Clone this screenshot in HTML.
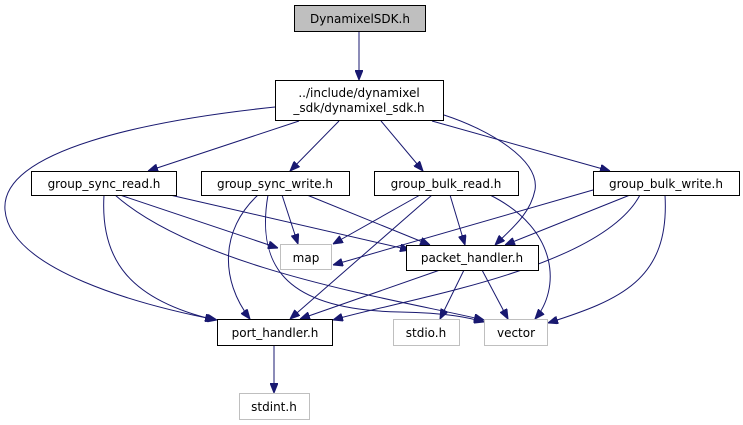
<!DOCTYPE html>
<html><head><meta charset="utf-8"><style>
html,body{margin:0;padding:0;background:#fff;}
svg{display:block}
text{font-family:"DejaVu Sans","Liberation Sans",sans-serif;font-size:12px;fill:#000}
</style></head><body>
<svg width="743" height="425" viewBox="0 0 743 425" xmlns="http://www.w3.org/2000/svg">
<defs>
<marker id="a" markerWidth="10" markerHeight="8" refX="10" refY="4" orient="auto" markerUnits="userSpaceOnUse">
<path d="M0,0 L10,4 L0,8 Z" fill="#191970" stroke="#191970"/>
</marker>
</defs>
<g fill="none" stroke="#191970" stroke-width="1" marker-end="url(#a)">
<path d="M359,32 L359,80"/>
<path d="M299,121 L148,171"/>
<path d="M339,121 L290,171"/>
<path d="M381,121 L423,171"/>
<path d="M432,121 L610,171"/>
<path d="M275,107 C150,120 0,150 5,210 C10,270 140,305 217,320"/>
<path d="M444,115 C490,130 540,160 535,190 C530,215 510,230 495,245"/>
<path d="M120,195 L278,248"/>
<path d="M170,195 L410,250"/>
<path d="M104,195 C100,260 130,300 215,320"/>
<path d="M115,195 C200,270 400,300 484,320"/>
<path d="M282,195 L298,244"/>
<path d="M307,195 L430,245"/>
<path d="M258,195 C220,230 220,280 250,319"/>
<path d="M268,195 C255,270 290,310 400,312 C450,313 470,318 484,322"/>
<path d="M420,195 L333,244"/>
<path d="M450,195 L465,245"/>
<path d="M432,195 L290,319"/>
<path d="M490,195 C560,230 560,290 535,319"/>
<path d="M593,190 L333,265"/>
<path d="M630,195 L505,245"/>
<path d="M640,195 C600,270 400,300 333,320"/>
<path d="M665,195 C670,280 620,300 548,323"/>
<path d="M440,270 L300,319"/>
<path d="M464,270 L440,319"/>
<path d="M482,270 L508,319"/>
<path d="M274,345 L274,393"/>
</g>
<g stroke-width="1">
<rect x="294.5" y="5.5" width="131" height="26" fill="#bfbfbf" stroke="#000"/>
<rect x="275.5" y="80.5" width="168" height="40" fill="#fff" stroke="#000"/>
<rect x="31.5" y="171.5" width="145" height="24" fill="#fff" stroke="#000"/>
<rect x="201.5" y="171.5" width="148" height="24" fill="#fff" stroke="#000"/>
<rect x="374.5" y="171.5" width="144" height="24" fill="#fff" stroke="#000"/>
<rect x="593.5" y="171.5" width="146" height="24" fill="#fff" stroke="#000"/>
<rect x="280.5" y="244.5" width="51" height="25" fill="#fff" stroke="#bfbfbf"/>
<rect x="406.5" y="245.5" width="132" height="25" fill="#fff" stroke="#000"/>
<rect x="217.5" y="319.5" width="115" height="26" fill="#fff" stroke="#000"/>
<rect x="393.5" y="319.5" width="66" height="26" fill="#fff" stroke="#bfbfbf"/>
<rect x="484.5" y="319.5" width="63" height="26" fill="#fff" stroke="#bfbfbf"/>
<rect x="239.5" y="393.5" width="70" height="26" fill="#fff" stroke="#bfbfbf"/>
</g>
<g text-anchor="middle">
<text x="360" y="23">DynamixelSDK.h</text>
<text x="359" y="97">../include/dynamixel</text>
<text x="359" y="112">_sdk/dynamixel_sdk.h</text>
<text x="104" y="188">group_sync_read.h</text>
<text x="275" y="188">group_sync_write.h</text>
<text x="446" y="188">group_bulk_read.h</text>
<text x="666" y="188">group_bulk_write.h</text>
<text x="306" y="262">map</text>
<text x="472" y="262">packet_handler.h</text>
<text x="275" y="337">port_handler.h</text>
<text x="426" y="337">stdio.h</text>
<text x="516" y="337">vector</text>
<text x="274" y="411">stdint.h</text>
</g>
</svg>
</body></html>
